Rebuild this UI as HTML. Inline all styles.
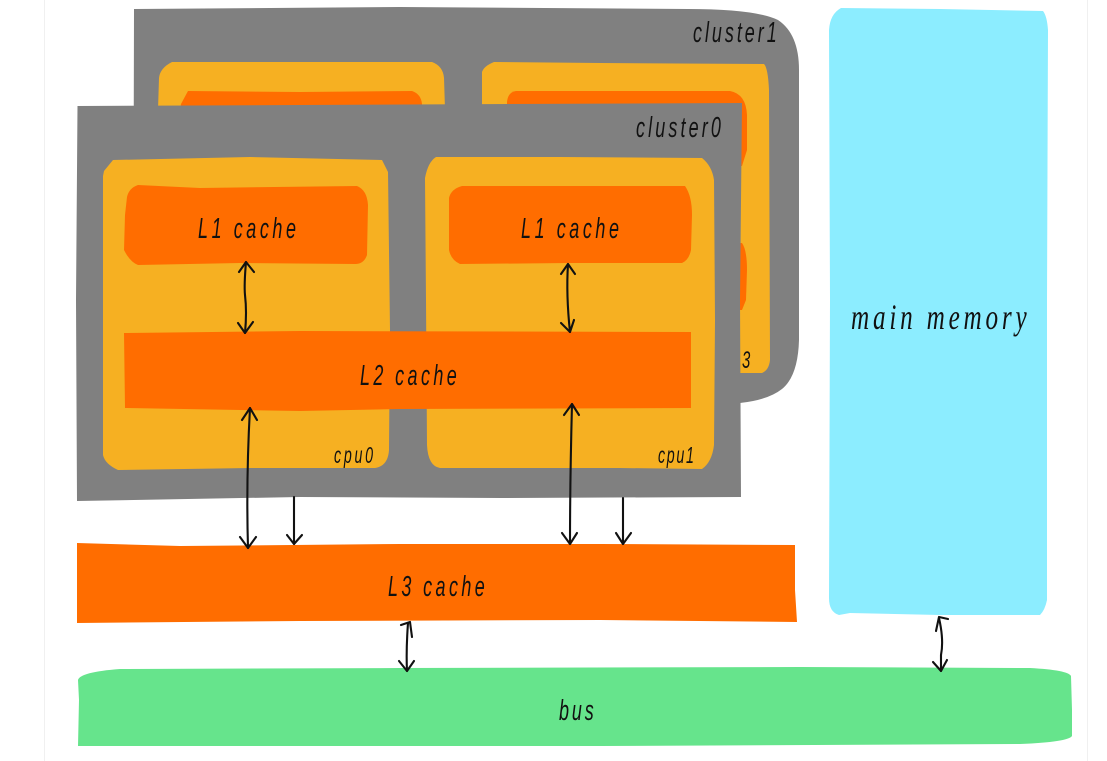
<!DOCTYPE html>
<html><head><meta charset="utf-8"><style>
html,body{margin:0;padding:0;background:#fff;width:1107px;height:761px;overflow:hidden}
svg{display:block}
text{font-family:"Liberation Sans",sans-serif;font-style:italic;fill:#111;stroke:none}
.a{fill:none;stroke:#111;stroke-width:2.1;stroke-linecap:round;stroke-linejoin:round}
</style></head><body>
<svg width="1107" height="761" viewBox="0 0 1107 761" xmlns="http://www.w3.org/2000/svg">
<rect x="44" y="0" width="1" height="761" fill="#f0f0f0"/>
<rect x="1087" y="0" width="1" height="761" fill="#f0f0f0"/>

<!-- cluster1 -->
<path fill="#808080" d="M134 9 L400 7 L688 9 Q755 9 778 20 Q799 34 799 70 L799 340 Q798 376 782 389 Q768 400 740 403 L500 420 L133 420 Z"/>
<path fill="#f6b022" d="M159 78 Q160 68 172 62 L230 62 L432 62 Q443 66 444 78 L445 110 L158 110 Z"/>
<path fill="#f6b022" d="M482 72 Q484 66 494 62 L600 63 L764 64 Q768 68 769 90 L770 360 Q769 370 762 373 L700 373 L482 373 Z"/>
<path fill="#ff6d00" d="M181 104 L188 91 L300 92 L412 91 Q421 94 422 104 L422 110 L180 110 Z"/>
<path fill="#ff6d00" d="M507 102 Q508 92 516 91 L730 91 Q746 94 747 115 L747 150 L742 166 L507 166 Z"/>
<path fill="#ff6d00" d="M700 243 L742 243 Q747 250 747 270 L746 300 L742 310 L700 310 Z"/>
<text transform="translate(693,42) scale(.62,1)" font-size="29" textLength="135" lengthAdjust="spacing">cluster1</text>
<text transform="translate(742,368) scale(.62,1)" font-size="24" >3</text>

<!-- cluster0 -->
<path fill="#808080" d="M77.5 106 L300 105 L742 103 L740 300 L741 497 L500 498 L300 497 L77 501 L76 300 Z"/>
<path fill="#f6b022" d="M104 171 L103 176 L103 360 L103 455 Q105 464 118 470 L250 468 L375 468 Q388 466 389 450 L390 330 L388 172 L382 160 L250 157 L113 160 Z"/>
<path fill="#f6b022" d="M425 178 Q428 162 436 157 L560 157 L702 158 Q712 166 714 180 L715 320 L714 445 Q712 462 702 469 L620 468 L440 468 Q428 466 427 445 L426 300 Z"/>
<path fill="#ff6d00" d="M127 197 Q129 188 138 185 L200 188 L357 186 Q367 190 368 205 L367 255 Q364 264 355 264 L240 263 L138 265 Q130 262 124 250 L125 215 Z"/>
<path fill="#ff6d00" d="M449 198 Q451 189 462 186 L560 186 L685 186 Q692 196 692 215 L691 250 Q689 260 682 263 L570 263 L460 264 Q451 260 449 250 Z"/>
<path fill="#ff6d00" d="M124 333 L300 331 L691 332 L691 408 L400 409 L300 411 L125 408 Z"/>
<text transform="translate(198,238) scale(.62,1)" font-size="29" textLength="158" lengthAdjust="spacing">L1 cache</text>
<text transform="translate(521,238) scale(.62,1)" font-size="29" textLength="158" lengthAdjust="spacing">L1 cache</text>
<text transform="translate(360,385) scale(.62,1)" font-size="29" textLength="156" lengthAdjust="spacing">L2 cache</text>
<text transform="translate(334,463) scale(.62,1)" font-size="23" textLength="63" lengthAdjust="spacing">cpu0</text>
<text transform="translate(658,463) scale(.62,1)" font-size="23" textLength="58" lengthAdjust="spacing">cpu1</text>
<text transform="translate(636,137) scale(.62,1)" font-size="29" textLength="137" lengthAdjust="spacing">cluster0</text>

<!-- L3 -->
<path fill="#ff6d00" d="M77 543 L180 546 L400 544 L600 544 L795 545 L795 590 L797 622 L600 620 L300 621 L77 623 Z"/>
<text transform="translate(388,596) scale(.62,1)" font-size="29" textLength="156" lengthAdjust="spacing">L3 cache</text>

<!-- main memory -->
<path fill="#8cedff" d="M829 30 Q830 14 841 8 L940 9 L1043 11 Q1047 16 1048 30 L1047 300 L1047 600 Q1045 610 1040 615 L940 615 L850 613 L839 615 Q829 612 829 598 L830 300 Z"/>
<text transform="translate(851,329) scale(.7,1)" font-size="36" textLength="251" lengthAdjust="spacing" style="font-family:'Liberation Serif',serif">main memory</text>

<!-- bus -->
<path fill="#66e48c" d="M78 680 Q80 672 120 669 L400 668 L800 667 L1030 668 Q1068 670 1071 676 L1072 710 L1072 736 Q1068 742 1020 744 L600 746 L300 746 L78 746 L79 700 Z"/>
<text transform="translate(559,720) scale(.62,1)" font-size="29" textLength="56" lengthAdjust="spacing">bus</text>

<!-- arrows -->
<g class="a">
<path d="M246 262 Q244 285 245 295 Q247 312 245 333"/><path d="M239 272 L246 262 L254 272"/><path d="M238 323 L245 333 L253 322"/>
<path d="M568 264 Q566 295 570 332"/><path d="M561 274 L568 264 L575 274"/><path d="M561 323 L570 332 L574 320"/>
<path d="M250 408 Q246 480 248 548"/><path d="M242 420 L250 408 L257 420"/><path d="M240 537 L248 548 L256 537"/>
<path d="M294 497 L294 544"/><path d="M287 535 L294 544 L302 535"/>
<path d="M572 404 Q570 480 570 544"/><path d="M564 415 L572 404 L579 415"/><path d="M562 533 L570 544 L577 533"/>
<path d="M623 498 L623 544"/><path d="M616 533 L623 544 L631 533"/>
<path d="M408 623 Q406 650 407 671"/><path d="M401 625 L410 622 L412 637"/><path d="M399 661 L407 671 L414 661"/>
<path d="M939 618 Q944 640 941 655 L941 671"/><path d="M936 631 L939 617 L948 619"/><path d="M933 662 L941 671 L947 660"/>
</g>
</svg>
</body></html>
